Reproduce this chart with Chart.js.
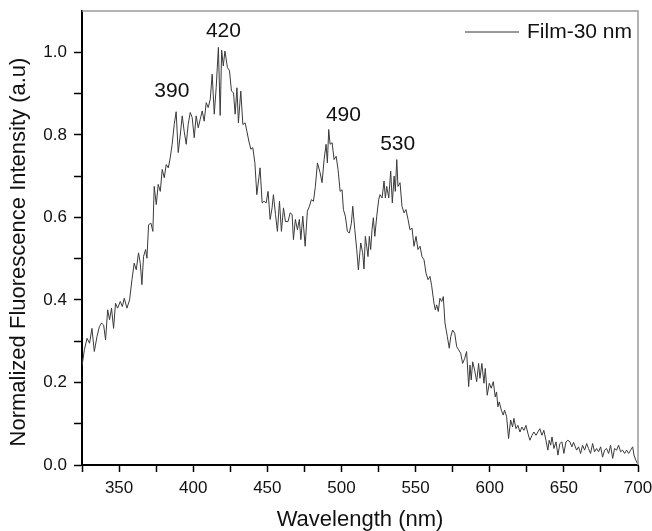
<!DOCTYPE html>
<html>
<head>
<meta charset="utf-8">
<script src="https://cdn.jsdelivr.net/npm/chart.js@4.4.1/dist/chart.umd.min.js"></script>
<style>
  html, body { margin: 0; padding: 0; background: #fff; }
  #wrap { width: 652px; height: 531px; }
</style>
</head>
<body>
<div id="wrap"><canvas id="grafico" width="652" height="531"></canvas></div>
<script>
// ============================
// DADOS
// ============================
const wavelength = [
  325.0, 326.6, 328.4, 330.1, 331.7, 333.3, 335.1, 336.7, 338.2, 339.6,
  340.9, 342.3, 343.6, 344.9, 346.3, 347.6, 349.0, 350.8, 352.2, 353.5,
  355.3, 357.1, 358.7, 360.2, 361.6, 363.1, 364.3, 365.4, 366.5, 367.9,
  368.8, 369.9, 371.5, 372.8, 373.7, 375.1, 376.4, 377.8, 379.1, 380.5,
  381.8, 383.2, 384.5, 385.8, 387.2, 388.5, 389.9, 391.2, 392.6, 393.9,
  395.3, 396.6, 398.0, 399.3, 400.7, 402.0, 403.4, 404.7, 406.1, 407.4,
  408.8, 410.1, 411.5, 412.8, 414.2, 415.5, 417.0, 418.2, 419.2, 420.3,
  421.4, 423.1, 424.5, 425.8, 427.2, 428.3, 429.5, 430.5, 432.1, 433.5,
  435.0, 436.2, 437.5, 438.9, 440.2, 441.6, 442.9, 444.3, 445.1, 446.5,
  447.8, 449.2, 450.5, 451.9, 453.2, 454.1, 455.5, 456.8, 458.2, 459.5,
  460.9, 462.2, 464.0, 465.4, 466.7, 467.6, 468.9, 470.3, 471.6, 472.6,
  473.9, 475.5, 477.0, 478.4, 479.7, 481.1, 482.4, 483.8, 485.6, 486.9,
  488.3, 489.6, 490.5, 491.4, 492.3, 493.7, 495.0, 496.4, 497.7, 499.1,
  500.4, 501.3, 502.6, 504.0, 505.3, 506.7, 507.6, 509.0, 510.3, 511.4,
  513.0, 514.3, 515.2, 516.1, 517.0, 517.9, 518.8, 519.7, 520.6, 521.5,
  522.5, 523.8, 525.1, 526.0, 527.4, 528.7, 529.6, 530.5, 531.9, 533.2,
  534.3, 535.5, 536.3, 537.3, 538.1, 539.5, 540.8, 542.2, 543.5, 544.9,
  546.2, 547.6, 548.9, 550.3, 551.6, 553.0, 554.3, 555.7, 557.0, 558.4,
  559.7, 560.8, 562.4, 563.3, 564.2, 565.3, 566.4, 567.6, 568.7, 569.8,
  571.4, 572.7, 573.7, 575.0, 576.4, 577.7, 579.0, 580.4, 581.7, 583.1,
  584.4, 585.8, 586.7, 587.5, 588.5, 589.8, 591.2, 592.5, 593.4, 594.7,
  596.1, 597.0, 598.3, 599.7, 601.0, 602.4, 603.7, 604.6, 605.5, 606.4,
  607.8, 609.1, 610.0, 611.4, 612.7, 614.1, 615.4, 616.3, 617.7, 619.0,
  620.4, 621.7, 623.1, 624.4, 625.8, 627.1, 628.5, 629.8, 631.2, 632.5,
  633.8, 635.2, 636.5, 637.9, 639.2, 640.1, 641.1, 642.0, 643.3, 644.7,
  646.0, 647.3, 648.7, 650.0, 651.4, 652.7, 654.1, 655.4, 656.5, 658.6,
  659.9, 661.3, 662.6, 664.0, 665.4, 666.6, 668.0, 669.4, 670.7, 672.1,
  673.4, 674.8, 676.1, 677.5, 678.8, 680.2, 681.5, 682.9, 684.2, 685.6,
  686.9, 688.3, 689.6, 691.0, 692.3, 693.7, 695.0, 696.4, 697.3, 698.6,
  699.7
];

const intensidade = [
  0.240, 0.279, 0.307, 0.295, 0.331, 0.275, 0.311, 0.335, 0.344, 0.339,
  0.303, 0.376, 0.352, 0.380, 0.331, 0.392, 0.380, 0.396, 0.384, 0.404,
  0.380, 0.400, 0.449, 0.489, 0.473, 0.514, 0.489, 0.437, 0.505, 0.522,
  0.501, 0.582, 0.586, 0.566, 0.675, 0.631, 0.680, 0.663, 0.716, 0.696,
  0.728, 0.720, 0.744, 0.777, 0.825, 0.856, 0.757, 0.797, 0.846, 0.809,
  0.777, 0.825, 0.854, 0.842, 0.793, 0.846, 0.817, 0.837, 0.858, 0.833,
  0.878, 0.866, 0.886, 0.947, 0.850, 0.914, 1.012, 0.847, 1.005, 0.967,
  1.003, 0.963, 0.955, 0.906, 0.902, 0.850, 0.914, 0.829, 0.906, 0.825,
  0.829, 0.809, 0.785, 0.765, 0.769, 0.732, 0.655, 0.696, 0.720, 0.635,
  0.639, 0.635, 0.663, 0.595, 0.623, 0.655, 0.607, 0.566, 0.639, 0.566,
  0.623, 0.590, 0.590, 0.611, 0.607, 0.546, 0.595, 0.570, 0.595, 0.546,
  0.603, 0.530, 0.615, 0.627, 0.643, 0.639, 0.675, 0.732, 0.708, 0.684,
  0.740, 0.777, 0.732, 0.813, 0.777, 0.781, 0.740, 0.748, 0.716, 0.663,
  0.667, 0.619, 0.603, 0.566, 0.562, 0.586, 0.627, 0.570, 0.522, 0.473,
  0.538, 0.514, 0.475, 0.554, 0.530, 0.505, 0.554, 0.522, 0.570, 0.599,
  0.554, 0.603, 0.643, 0.655, 0.647, 0.688, 0.647, 0.675, 0.647, 0.712,
  0.635, 0.700, 0.663, 0.740, 0.675, 0.684, 0.627, 0.611, 0.619, 0.595,
  0.570, 0.574, 0.530, 0.554, 0.522, 0.530, 0.505, 0.497, 0.465, 0.449,
  0.457, 0.435, 0.392, 0.376, 0.388, 0.372, 0.404, 0.396, 0.408, 0.344,
  0.311, 0.283, 0.311, 0.327, 0.319, 0.287, 0.279, 0.271, 0.246, 0.258,
  0.275, 0.190, 0.242, 0.206, 0.250, 0.230, 0.202, 0.246, 0.210, 0.246,
  0.198, 0.234, 0.169, 0.198, 0.186, 0.202, 0.165, 0.177, 0.141, 0.153,
  0.133, 0.121, 0.133, 0.117, 0.064, 0.109, 0.092, 0.113, 0.088, 0.096,
  0.080, 0.092, 0.084, 0.096, 0.076, 0.060, 0.072, 0.080, 0.072, 0.080,
  0.088, 0.072, 0.084, 0.060, 0.036, 0.060, 0.048, 0.068, 0.040, 0.056,
  0.024, 0.052, 0.056, 0.028, 0.056, 0.060, 0.056, 0.044, 0.055, 0.036,
  0.044, 0.028, 0.048, 0.036, 0.052, 0.040, 0.028, 0.052, 0.032, 0.040,
  0.032, 0.044, 0.019, 0.036, 0.040, 0.028, 0.048, 0.016, 0.040, 0.036,
  0.048, 0.032, 0.036, 0.028, 0.036, 0.028, 0.036, 0.044, 0.024, 0.011,
  0.003
];

const serieNome = "Film-30 nm";
const tituloX = "Wavelength (nm)";
const tituloY = "Normalized Fluorescence Intensity (a.u)";
const picosTexto = ["390", "420", "490", "530"];
const xMin = 325, xMax = 700, xPasso = 25;
const yMin = 0, yMax = 1.1, yPasso = 0.1;

const FONTE = "'Liberation Sans', Arial, sans-serif";

// posições (em coordenadas dos dados) dos rótulos dos picos
const picosPos = [
  { x: 385.6, y: 0.905 },
  { x: 420.4, y: 1.050 },
  { x: 501.3, y: 0.848 },
  { x: 537.9, y: 0.778 }
];

// ============================
// PLUGIN: moldura, rótulos, título Y e legenda
// ============================
const extras = {
  id: "extras",
  afterDraw(chart) {
    const { ctx, chartArea, scales } = chart;
    ctx.save();

    // moldura superior / direita (cinza)
    ctx.strokeStyle = "#9a9a9a";
    ctx.lineWidth = 1.5;
    ctx.beginPath();
    ctx.moveTo(chartArea.left, chartArea.top);
    ctx.lineTo(chartArea.right, chartArea.top);
    ctx.lineTo(chartArea.right, chartArea.bottom);
    ctx.stroke();

    // rótulos dos picos
    ctx.fillStyle = "#111";
    ctx.font = "21px " + FONTE;
    ctx.textAlign = "center";
    ctx.textBaseline = "middle";
    picosTexto.forEach((t, i) => {
      const px = scales.x.getPixelForValue(picosPos[i].x);
      const py = scales.y.getPixelForValue(picosPos[i].y);
      ctx.fillText(t, px, py);
    });

    // legenda
    const ly = chartArea.top + 21;
    ctx.strokeStyle = "#333";
    ctx.lineWidth = 1;
    ctx.beginPath();
    ctx.moveTo(chartArea.right - 173, ly);
    ctx.lineTo(chartArea.right - 119, ly);
    ctx.stroke();
    ctx.textAlign = "left";
    ctx.fillText(serieNome, chartArea.right - 111, ly);

    // título do eixo Y (um pouco abaixo do centro, como no original)
    ctx.save();
    ctx.translate(19, (chartArea.top + chartArea.bottom) / 2 + 14);
    ctx.rotate(-Math.PI / 2);
    ctx.font = "22px " + FONTE;
    ctx.textAlign = "center";
    ctx.fillText(tituloY, 0, 0);
    ctx.restore();

    ctx.restore();
  }
};

// ============================
// GRÁFICO
// ============================
const pontos = wavelength.map((w, i) => ({ x: w, y: intensidade[i] }));

new Chart(document.getElementById("grafico"), {
  type: "line",
  data: {
    datasets: [{
      label: serieNome,
      data: pontos,
      borderColor: "#3a3a3a",
      borderWidth: 1,
      pointRadius: 0,
      tension: 0,
      fill: false
    }]
  },
  options: {
    responsive: false,
    animation: false,
    layout: { padding: { top: 11, right: 14, left: 0, bottom: 0 } },
    plugins: { legend: { display: false }, tooltip: { enabled: false } },
    scales: {
      x: {
        type: "linear",
        min: xMin,
        max: xMax,
        afterFit: s => {
          s.height = 66;
          s.paddingLeft = 0;
          s.paddingRight = 0;
        },
        border: { display: true, color: "#000", width: 2 },
        grid: { drawOnChartArea: false, tickLength: 7, tickColor: "#000", tickWidth: 1.5 },
        ticks: {
          stepSize: xPasso,
          autoSkip: false,
          maxRotation: 0,
          padding: 6,
          color: "#111",
          font: { family: FONTE, size: 17 },
          callback: v => (v % 50 === 0 ? String(v) : "")
        },
        title: {
          display: true,
          text: tituloX,
          color: "#111",
          font: { family: FONTE, size: 22, lineHeight: 1 },
          padding: { top: 0, bottom: 0 }
        }
      },
      y: {
        min: yMin,
        max: yMax,
        afterFit: s => {
          s.width = 82;
          s.paddingTop = 0;
          s.paddingBottom = 0;
        },
        border: { display: true, color: "#000", width: 2 },
        grid: {
          drawOnChartArea: false,
          tickLength: 8,
          tickWidth: 1.5,
          tickColor: c => (c.tick && c.tick.value > 1.05 ? "rgba(0,0,0,0)" : "#000")
        },
        ticks: {
          stepSize: yPasso,
          autoSkip: false,
          padding: 7,
          color: "#111",
          font: { family: FONTE, size: 17 },
          callback: v => {
            const k = Math.round(v * 10);
            return (k % 2 === 0 && v < 1.05) ? v.toFixed(1) : "";
          }
        }
      }
    }
  },
  plugins: [extras]
});
</script>
</body>
</html>
